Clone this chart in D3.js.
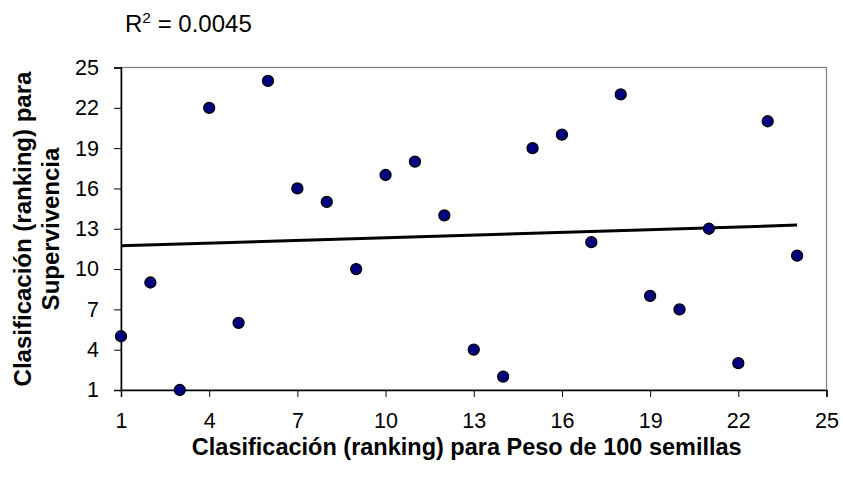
<!DOCTYPE html>
<html><head><meta charset="utf-8">
<script src="https://cdn.jsdelivr.net/npm/d3@7"></script>
<style>body{margin:0;background:#fff}svg{display:block}text{font-family:"Liberation Sans",Arial,sans-serif}</style>
</head><body>
<svg id="c" width="843" height="481"></svg>
<script>
const xRank = [1,2,3,4,5,6,7,8,9,10,11,12,13,14,15,16,17,18,19,20,21,22,23,24];
const yRank = [5,9,1,22,6,24,16,15,10,17,18,14,4,2,19,20,12,23,8,7,13,3,21,11];
const tickValues = [1,4,7,10,13,16,19,22,25];
const xTitle = "Clasificación (ranking) para Peso de 100 semillas";
const yTitleLines = ["Clasificación (ranking) para","Supervivencia"];
const r2Label = "0.0045";

const svg = d3.select("#c");
const L=121, R=826.5, T=67.5, B=390;
const x = d3.scaleLinear().domain([1,25]).range([L,R]);
const y = d3.scaleLinear().domain([1,25]).range([B,T]);

svg.append("rect").attr("x",L).attr("y",T).attr("width",R-L).attr("height",B-T)
  .attr("fill","none").attr("stroke","#808080").attr("stroke-width",1.2);

const xa = svg.append("g").attr("transform",`translate(0,${B})`)
  .call(d3.axisBottom(x).tickValues(tickValues).tickSize(7).tickPadding(16).tickFormat(d3.format("d")));
const ya = svg.append("g").attr("transform",`translate(${L},0)`)
  .call(d3.axisLeft(y).tickValues(tickValues).tickSize(7).tickPadding(15).tickFormat(d3.format("d")));
[xa,ya].forEach(g=>{
  g.select(".domain").attr("stroke","#000").attr("stroke-width",1.5);
  g.selectAll(".tick line").attr("stroke","#000").attr("stroke-width",1);
  g.selectAll(".tick text").attr("font-size",21.5).attr("fill","#000")
   .style("font-family","'Liberation Sans',Arial,sans-serif");
});

const mx=d3.mean(xRank), my=d3.mean(yRank);
let sxy=0,sxx=0; xRank.forEach((v,i)=>{sxy+=(v-mx)*(yRank[i]-my);sxx+=(v-mx)*(v-mx);});
const slope=sxy/sxx, icpt=my-slope*mx;
const x0=d3.min(xRank), x1=d3.max(xRank);
svg.append("line").attr("x1",x(x0)).attr("y1",y(icpt+slope*x0)).attr("x2",x(x1)).attr("y2",y(icpt+slope*x1))
  .attr("stroke","#000").attr("stroke-width",3);

svg.append("g").selectAll("circle").data(xRank).join("circle")
  .attr("cx",d=>x(d)).attr("cy",(d,i)=>y(yRank[i])).attr("r",5.5)
  .attr("fill","#000080").attr("stroke","#000").attr("stroke-width",1.3);

const rt = svg.append("text").attr("x",125).attr("y",32).attr("font-size",24).attr("fill","#000");
rt.append("tspan").text("R");
rt.append("tspan").attr("dy",-9).attr("font-size",15.5).text("2");
rt.append("tspan").attr("dy",9).text(" = "+r2Label);

svg.append("text").attr("x",(L+R)/2-7).attr("y",455).attr("text-anchor","middle")
  .attr("font-size",23.5).attr("font-weight","bold").text(xTitle);

const yt = svg.append("text").attr("transform","translate(0,229) rotate(-90)")
  .attr("text-anchor","middle").attr("font-size",24).attr("font-weight","bold");
yTitleLines.forEach((t,i)=>yt.append("tspan").attr("x",0).attr("y",31+i*28).text(t));
</script>
</body></html>
